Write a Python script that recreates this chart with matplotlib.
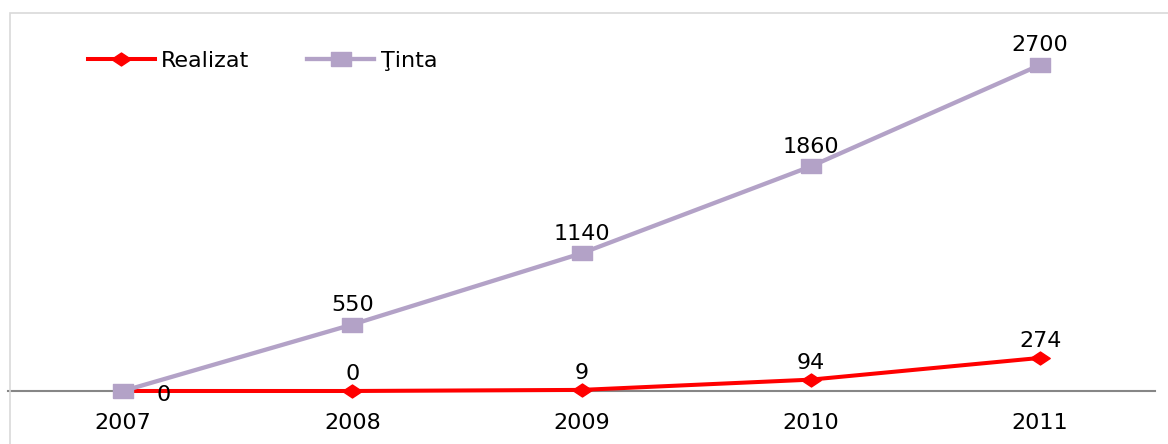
import matplotlib
matplotlib.use("Agg")
import matplotlib.pyplot as plt
from matplotlib.patches import Rectangle

plt.rcParams['font.family'] = ['DejaVu Sans']

years = ['2007', '2008', '2009', '2010', '2011']
realizat = [0, 0, 9, 94, 274]
tinta = [0, 550, 1140, 1860, 2700]

RED = '#ff0000'
LAVENDER = '#b3a2c7'
FS = 16

fig = plt.figure(figsize=(11.68, 4.44), dpi=100)
ax = fig.add_axes([0, 0, 1, 1])
ax.set_xlim(-0.5365, 4.558)
ax.set_ylim(-439, 3238)

# outer chart border (light gray)
fig.patches.append(Rectangle((10 / 1168, -0.1), 1.2, 1 - 13 / 444 + 0.1,
                             transform=fig.transFigure, fill=False,
                             edgecolor='#d9d9d9', lw=1.2, zorder=0))

x = list(range(len(years)))
square = [(-1.5, -1), (1.5, -1), (1.5, 1), (-1.5, 1), (-1.5, -1)]
diamond = [(-1.5, 0), (0, -1), (1.5, 0), (0, 1), (-1.5, 0)]

ax.plot(x, realizat, color=RED, lw=2.9, marker=diamond, ms=14,
        mec=RED, mfc=RED, label='Realizat', zorder=3)
ax.plot(x, tinta, color=LAVENDER, lw=3.1, marker=square, ms=15,
        mec=LAVENDER, mfc=LAVENDER, label='Ţinta', zorder=4)

# data labels
for i, v in enumerate(tinta):
    if i == 0:
        continue
    ax.annotate(str(v), (i, v), xytext=(0, 7), textcoords='offset points',
                ha='center', va='bottom', fontsize=FS, color='black', zorder=5)
for i, v in enumerate(realizat):
    if i == 0:
        ax.annotate(str(v), (i, v), xytext=(29, -3), textcoords='offset points',
                    ha='center', va='center', fontsize=FS, color='black', zorder=5)
    else:
        ax.annotate(str(v), (i, v), xytext=(0, 5), textcoords='offset points',
                    ha='center', va='bottom', fontsize=FS, color='black', zorder=5)

# axis
for s in ['top', 'right', 'left']:
    ax.spines[s].set_visible(False)
ax.spines['bottom'].set_position(('data', 0))
ax.spines['bottom'].set_bounds(-0.5, 4.5)
ax.spines['bottom'].set_color('#868686')
ax.spines['bottom'].set_linewidth(1.5)
ax.spines['bottom'].set_zorder(2)
ax.set_xticks(x)
ax.set_xticklabels(years, fontsize=FS)
ax.tick_params(axis='x', length=0, pad=16)
ax.set_yticks([])
ax.patch.set_alpha(0)

ax.legend(loc='center left', bbox_to_anchor=(88 / 1168, 1 - 61 / 444),
          bbox_transform=fig.transFigure, ncol=2, frameon=False, fontsize=FS,
          handlelength=3.0, handletextpad=0.3, columnspacing=2.6,
          borderpad=0, borderaxespad=0)

fig.savefig('out.png', dpi=100)
